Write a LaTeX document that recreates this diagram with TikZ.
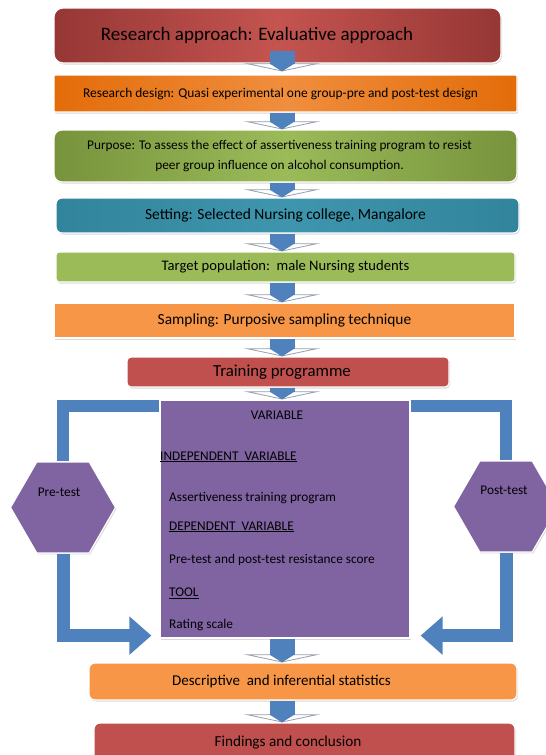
\documentclass[tikz,border=0pt]{standalone}
\usepackage{fontspec}
\setmainfont{Carlito}
\usepackage{tikz}
\usetikzlibrary{shapes,arrows.meta,positioning,shadows,calc}
\definecolor{barblue}{RGB}{79,129,189}
\definecolor{darkred}{RGB}{150,55,53}
\definecolor{midred}{RGB}{196,84,80}
\definecolor{deeporange}{RGB}{227,108,9}
\definecolor{lightorange}{RGB}{240,142,62}
\definecolor{olivegreen}{RGB}{119,147,60}
\definecolor{leafgreen}{RGB}{155,187,89}
\definecolor{seablue}{RGB}{49,132,155}
\definecolor{lightsea}{RGB}{62,150,174}
\definecolor{paleorange}{RGB}{247,150,70}
\definecolor{brickred}{RGB}{192,80,77}
\definecolor{varpurple}{RGB}{128,100,162}
\definecolor{winggrey}{RGB}{150,160,175}

\begin{document}
\begin{tikzpicture}[x=1pt, y=-1pt,
		box/.style={draw=white, line width=1.2pt, inner sep=2pt,
			drop shadow={opacity=0.3, shadow xshift=1pt, shadow yshift=-1.5pt}},
		hexa/.style={regular polygon, regular polygon sides=6,
			minimum size=105pt, fill=varpurple, draw=white, line width=1.2pt,
			drop shadow={opacity=0.3, shadow xshift=1pt, shadow yshift=-1.5pt}},
		vartext/.style={font=\fontsize{13.3}{15}\selectfont, inner sep=0pt, anchor=west},
		downarr/.style={draw=barblue, line width=25pt,
			-{Triangle[width=76pt, length=8pt, fill=white, color=winggrey, line width=0.8pt]},
			postaction={draw=barblue, line width=25pt, -{Triangle[width=25pt, length=8pt, fill=barblue, color=barblue]}}},
		sidebar/.style={draw=barblue, line width=12pt}]
	\useasboundingbox (0,0) rectangle (546,755);
	
	% upper chain
	\node[box, rounded corners=9pt, minimum width=447pt, minimum height=55pt,
		left color=darkred, right color=darkred, middle color=midred,
		font=\fontsize{19}{21}\selectfont] (approach) at (277.5,35.5) {Research approach: Evaluative approach\hspace*{41pt}};
	\node[box, rounded corners=1pt, minimum width=463pt, minimum height=37pt,
		left color=deeporange, right color=deeporange, middle color=lightorange,
		font=\fontsize{13.4}{15}\selectfont] (design) at (285.5,93.5) {Research design: Quasi experimental one group-pre and post-test design\hspace*{10pt}};
	\node[box, rounded corners=8pt, minimum width=463pt, minimum height=52pt, align=center,
		left color=olivegreen, right color=olivegreen, middle color=leafgreen,
		font=\fontsize{13.3}{20}\selectfont] (purpose) at (285.5,156) {Purpose: To assess the effect of assertiveness training program to resist\hspace*{12pt}\\peer group influence on alcohol consumption.\hspace*{12pt}};
	\node[box, rounded corners=6pt, minimum width=463pt, minimum height=35pt,
		left color=seablue, right color=seablue, middle color=lightsea,
		font=\fontsize{15.5}{18}\selectfont] (setting) at (287.5,215.5) {Setting: Selected Nursing college, Mangalore\hspace*{4pt}};
	\node[box, rounded corners=3pt, minimum width=459pt, minimum height=30pt, fill=leafgreen,
		font=\fontsize{14.6}{17}\selectfont] (target) at (285.5,267) {Target population:\ \ male Nursing students};
	\node[box, rounded corners=0pt, minimum width=461pt, minimum height=35pt, fill=paleorange,
		font=\fontsize{15.4}{18}\selectfont] (sampling) at (284.5,320.5) {Sampling: Purposive sampling technique};
	\node[box, rounded corners=4pt, minimum width=322pt, minimum height=30pt, fill=brickred,
		font=\fontsize{16.8}{19}\selectfont] (training) at (288,372) {Training programme\hspace*{12pt}};
	
	% variables
	\node[box, fill=varpurple, minimum width=250pt, minimum height=238pt] (var) at (285,519) {};
	\node[vartext, anchor=center] (vartitle) at (277,415) {VARIABLE};
	\node[vartext] (indep) at (160,457) {\underline{INDEPENDENT\ \ VARIABLE}};
	\node[vartext] (indeptext) at (169,498) {Assertiveness training program};
	\node[vartext] (dep) at (169,527) {\underline{DEPENDENT\ \ VARIABLE}};
	\node[vartext] (deptext) at (169,560) {Pre-test and post-test resistance score};
	\node[vartext] (tool) at (169,593) {\underline{TOOL}};
	\node[vartext] (tooltext) at (169,625) {Rating scale};
	
	% tests
	\node[hexa, label={[font=\fontsize{13.3}{15}\selectfont, xshift=-4pt, yshift=15pt]center:Pre-test}] (pre) at (63,507.5) {};
	\node[hexa, label={[font=\fontsize{13.3}{15}\selectfont, xshift=-2pt, yshift=16pt]center:Post-test}] (post) at (506,506.5) {};
	
	% lower chain
	\node[box, rounded corners=6pt, minimum width=428pt, minimum height=37pt, fill=paleorange,
		font=\fontsize{15}{17}\selectfont] (stats) at (303,681.5) {Descriptive\ \ and inferential statistics\hspace*{43pt}};
	\node[box, rounded corners=6pt, minimum width=421pt, minimum height=44pt, fill=brickred,
		font=\fontsize{15.2}{17}\selectfont, text depth=8pt] (findings) at (304.5,745) {Findings and conclusion\hspace*{33pt}};
	
	\coordinate (axis) at (282,0);
	
	% side loops
	\draw[sidebar] ([yshift=-7pt]var.north west) -| (pre.north);
	\draw[sidebar] ([yshift=-7pt]var.north east) -| (post.north);
	\draw[sidebar, line width=13pt, -{Triangle[width=37pt, length=22pt]}, shorten >=8pt] (pre.south) |- ([yshift=3pt]var.south west);
	\draw[sidebar, line width=13pt, -{Triangle[width=37pt, length=22pt]}, shorten >=10pt] (post.south) |- ([yshift=3pt]var.south east);
	
	% down arrows
	\draw[downarr, shorten >=3pt] ([yshift=13pt]approach.south -| axis) -- (design.north -| axis);
	\draw[downarr] (design.south -| axis) -- (purpose.north -| axis);
	\draw[downarr] (purpose.south -| axis) -- (setting.north -| axis);
	\draw[downarr] (setting.south -| axis) -- (target.north -| axis);
	\draw[downarr] (target.south -| axis) -- (sampling.north -| axis);
	\draw[downarr] (sampling.south -| axis) -- (training.north -| axis);
	\draw[downarr] (training.south -| axis) -- (var.north -| axis);
	\draw[downarr] (var.south -| axis) -- (stats.north -| axis);
	\draw[downarr] (stats.south -| axis) -- (findings.north -| axis);
\end{tikzpicture}
\end{document}
